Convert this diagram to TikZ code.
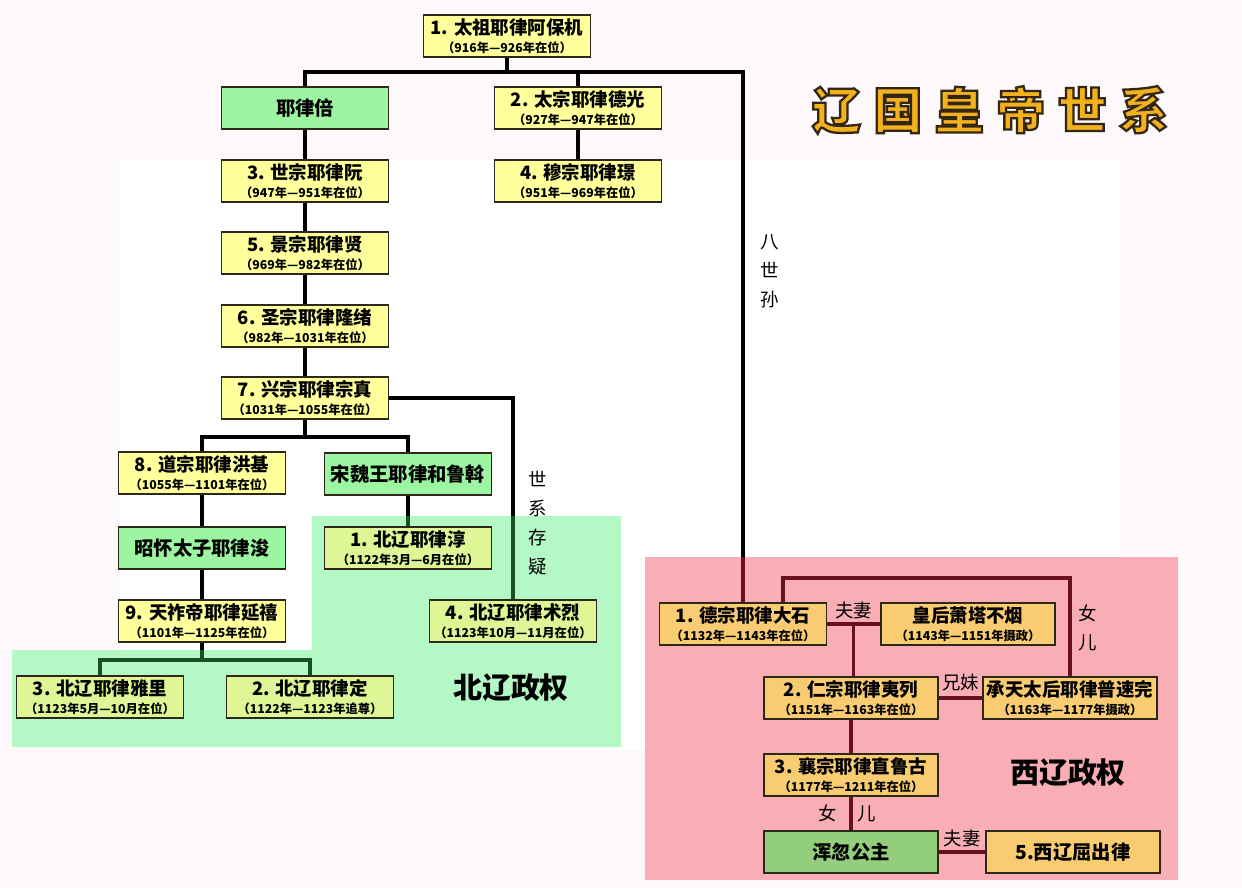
\documentclass[tikz,border=0pt]{standalone}
\usepackage{fontspec}
\setmainfont{Noto Sans CJK SC}
\usetikzlibrary{positioning}
\usetikzlibrary{calc}
\definecolor{bgpink}{RGB}{253,248,249}
\definecolor{boxyellow}{RGB}{255,255,156}
\definecolor{boxgreen}{RGB}{156,245,160}
\definecolor{northgreen}{RGB}{180,248,198}
\definecolor{westpink}{RGB}{249,174,182}
\definecolor{nyellow}{RGB}{222,246,150}
\definecolor{worange}{RGB}{250,204,114}
\definecolor{wgreen}{RGB}{146,206,124}
\definecolor{darkred}{RGB}{105,15,30}
\definecolor{darkgreen}{RGB}{25,80,35}
\definecolor{gold}{RGB}{242,178,30}
\definecolor{edge}{RGB}{45,40,25}
\newcommand{\reign}[2]{#1\\[-2pt]{\fontsize{7}{8}\selectfont #2}}
\newcommand{\outlined}[1]{\special{pdf:literal direct 2 Tr 1.3 w 0.2 0.15 0.08 RG}#1\special{pdf:literal direct 0 Tr}}

\begin{document}
\begin{tikzpicture}[x=0.02cm, y=-0.02cm,
    font=\bfseries\fontsize{10.5}{12}\selectfont,
    box/.style={draw=edge, line width=0.7pt, minimum width=3.34cm, minimum height=0.84cm, inner sep=0pt, align=center},
    ybox/.style={box, fill=boxyellow},
    gbox/.style={box, fill=boxgreen, font=\bfseries\fontsize{11}{12}\selectfont},
    nbox/.style={box, fill=nyellow},
    wbox/.style={box, fill=worange, minimum width=3.48cm},
    link/.style={line width=1.9pt},
    nlink/.style={link, draw=darkgreen},
    wlink/.style={link, draw=darkred},
    note/.style={font=\mdseries\fontsize{10.5}{16.5}\selectfont, align=center, inner sep=1pt},
    realm/.style={font=\bfseries\fontsize{16.5}{17}\selectfont}
]
    \useasboundingbox (0,0) rectangle (1242,887);
    \fill[bgpink] (0,0) rectangle (1242,887);
    \fill[white] (120,160) rectangle (1120,750);
    \fill[northgreen] (12,650) -- (312,650) -- (312,516) -- (621,516) -- (621,747) -- (12,747) -- cycle;
    \fill[westpink] (645,557) rectangle (1178,880);
    \coordinate (greenedge) at (0,516);
    \coordinate (lowedge) at (0,650);
    \coordinate (pinkedge) at (0,557);
    \coordinate (dtop) at (0,578);

    \node[text=gold, font=\bfseries\fontsize{28}{30}\selectfont] (title) at (990,110) {\outlined{辽\hspace{7pt}国\hspace{7pt}皇\hspace{7pt}帝\hspace{7pt}世\hspace{7pt}系}};

    \node[ybox] (taizu) at (507,36) {\reign{1. 太祖耶律阿保机}{（916年—926年在位）}};
    \node[gbox] (beiyi) at (305,108) {耶律倍};
    \node[ybox] (taizong) at (578,108) {\reign{2. 太宗耶律德光}{（927年—947年在位）}};
    \node[ybox] (shizong) at (305,181) {\reign{3. 世宗耶律阮}{（947年—951年在位）}};
    \node[ybox] (muzong) at (578,181) {\reign{4. 穆宗耶律璟}{（951年—969年在位）}};
    \node[ybox] (jingzong) at (305,253) {\reign{5. 景宗耶律贤}{（969年—982年在位）}};
    \node[ybox] (shengzong) at (305,326) {\reign{6. 圣宗耶律隆绪}{（982年—1031年在位）}};
    \node[ybox] (xingzong) at (305,398) {\reign{7. 兴宗耶律宗真}{（1031年—1055年在位）}};
    \node[ybox] (daozong) at (202,473) {\reign{8. 道宗耶律洪基}{（1055年—1101年在位）}};
    \node[gbox] (songwei) at (408,474) {宋魏王耶律和鲁斡};
    \node[gbox] (zhaohuai) at (202,548) {昭怀太子耶律浚};
    \node[nbox] (chun) at (408,548) {\reign{1. 北辽耶律淳}{（1122年3月—6月在位）}};
    \node[ybox] (tianzuo) at (202,621) {\reign{9. 天祚帝耶律延禧}{（1101年—1125年在位）}};
    \node[nbox] (shulie) at (513,621) {\reign{4. 北辽耶律术烈}{（1123年10月—11月在位）}};
    \node[nbox] (yali) at (100,697) {\reign{3. 北辽耶律雅里}{（1123年5月—10月在位）}};
    \node[nbox] (ding) at (310,697) {\reign{2. 北辽耶律定}{（1122年—1123年追尊）}};

    \node[wbox, minimum width=3.34cm] (dezong) at (743,624) {\reign{1. 德宗耶律大石}{（1132年—1143年在位）}};
    \node[wbox] (xiaota) at (968,624) {\reign{皇后萧塔不烟}{（1143年—1151年摄政）}};
    \node[wbox] (renzong) at (851,698) {\reign{2. 仁宗耶律夷列}{（1151年—1163年在位）}};
    \node[wbox] (chengtian) at (1070,698) {\reign{承天太后耶律普速完}{（1163年—1177年摄政）}};
    \node[wbox] (xiangzong) at (851,775) {\reign{3. 襄宗耶律直鲁古}{（1177年—1211年在位）}};
    \node[wbox, fill=wgreen, font=\bfseries\fontsize{11}{12}\selectfont] (hunhu) at (851,852) {浑忽公主};
    \node[wbox, font=\bfseries\fontsize{11}{12}\selectfont] (quchulu) at (1073,852) {5.西辽屈出律};

    \coordinate (bus) at (507,72);
    \draw[link] (taizu) -- (bus);
    \draw[link] (beiyi.north) |- (bus) -| (taizong.north);
    \draw[link] (bus) -| (dezong.north |- pinkedge);
    \draw[wlink] (dezong.north |- pinkedge) -- (dezong.north);
    \draw[link] (beiyi) -- (shizong) -- (jingzong) -- (shengzong) -- (xingzong);
    \draw[link] (taizong) -- (muzong);

    \coordinate (bus2) at (305,437);
    \draw[link] (xingzong) -- (bus2);
    \draw[link] (daozong.north) |- (bus2) -| (songwei.north);
    \draw[link] (daozong) -- (zhaohuai) -- (tianzuo);
    \draw[link] (songwei) -- (songwei.south |- greenedge);
    \draw[nlink] (songwei.south |- greenedge) -- (chun);
    \draw[link] (xingzong.east) -| (shulie.north |- greenedge);
    \draw[nlink] (shulie.north |- greenedge) -- (shulie.north);

    \coordinate (bus3) at (202,660);
    \draw[link] (tianzuo) -- (tianzuo.south |- lowedge);
    \draw[nlink] (tianzuo.south |- lowedge) -- (bus3);
    \draw[nlink] (yali.north) |- (bus3) -| (ding.north);

    \draw[wlink] (dezong) -- (xiaota) coordinate[midway] (wed1) node[note, midway, above=1pt] (fuqi1) {夫妻};
    \draw[wlink] (wed1) -- (wed1 |- renzong.north);
    \draw[wlink] ([xshift=0.8cm]dezong.north) |- (chengtian.north |- dtop) -- (chengtian.north);
    \draw[wlink] (renzong) -- (chengtian) node[note, midway, above=2pt] (xiongmei) {兄妹};
    \draw[wlink] (renzong) -- (xiangzong);
    \draw[wlink] (xiangzong) -- (hunhu) node[note, midway, left=6pt] (nv) {女} node[note, midway, right=2pt] (er) {儿};
    \draw[wlink] (hunhu) -- (quchulu) node[note, midway, above=1pt] (fuqi2) {夫妻};

    \node[note] (basun) at (770,271) {八\\世\\孙};
    \node[note] (yiyi) at (538,523) {世\\系\\存\\疑};
    \node[note] (nver) at (1088,628) {女\\儿};

    \node[realm] (beiliao) at (511,688) {北辽政权};
    \node[realm] (xiliao) at (1068,773) {西辽政权};
\end{tikzpicture}
\end{document}
